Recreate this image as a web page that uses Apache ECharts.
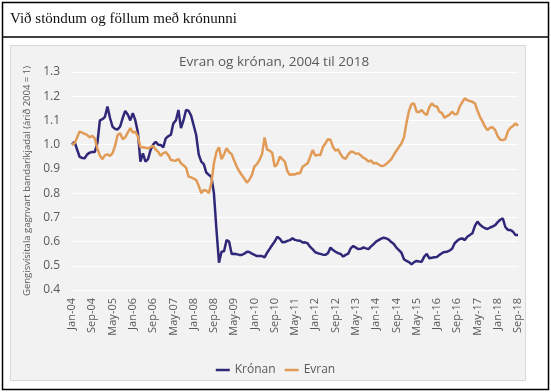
<!DOCTYPE html>
<html><head><meta charset="utf-8">
<script src="https://cdn.jsdelivr.net/npm/echarts@6/dist/echarts.min.js"></script>
<style>html,body{margin:0;padding:0;background:#fff}#c{width:551px;height:392px}</style>
</head><body><div id="c"></div>
<script>
const headerText = "Við stöndum og föllum með krónunni";
const chartTitle = "Evran og krónan, 2004 til 2018";
const yAxisTitle = "Gengisvísitala gagnvart bandaríkjadal (árið 2004 = 1)";
const monthNames = ["Jan","Feb","Mar","Apr","May","Jun","Jul","Aug","Sep","Oct","Nov","Dec"];
const firstYear = 2004, lastYear = 2018, lastMonth = 9;
const categories = [];
for (let y = firstYear; y <= lastYear; y++) {
  for (let m = 0; m < 12; m++) {
    if (y === lastYear && m >= lastMonth) break;
    categories.push(monthNames[m] + "-" + String(y).slice(2));
  }
}
const kronan = [
1.00,1.012,0.98,0.95,0.945,0.944,0.96,0.967,0.97,0.97,
1.005,1.10,1.105,1.115,1.157,1.11,1.074,1.065,1.063,1.075,
1.11,1.139,1.125,1.10,1.13,1.10,1.05,0.93,0.964,0.93,
0.94,0.978,1.00,1.012,1.00,0.999,0.989,1.026,1.035,1.04,
1.088,1.10,1.143,1.068,1.10,1.143,1.14,1.12,1.08,1.04,
0.96,0.93,0.92,0.885,0.875,0.868,0.80,0.65,0.513,0.558,
0.56,0.606,0.60,0.549,0.55,0.548,0.545,0.545,0.55,0.558,
0.557,0.55,0.545,0.54,0.54,0.54,0.535,0.554,0.57,0.586,
0.60,0.62,0.612,0.597,0.598,0.603,0.606,0.613,0.607,0.604,
0.603,0.596,0.597,0.592,0.578,0.568,0.556,0.552,0.549,0.546,
0.545,0.552,0.575,0.565,0.558,0.552,0.549,0.538,0.545,0.55,
0.572,0.582,0.575,0.569,0.57,0.576,0.572,0.569,0.58,0.589,
0.60,0.606,0.612,0.616,0.613,0.608,0.598,0.59,0.575,0.565,
0.554,0.527,0.52,0.515,0.506,0.515,0.52,0.518,0.517,0.538,
0.549,0.531,0.533,0.535,0.536,0.545,0.552,0.557,0.558,0.563,
0.57,0.593,0.603,0.611,0.613,0.606,0.62,0.627,0.634,0.665,
0.682,0.67,0.661,0.655,0.652,0.658,0.662,0.668,0.68,0.69,
0.696,0.66,0.648,0.648,0.641,0.627,0.627
];
const evran = [
1.00,1.005,1.03,1.054,1.05,1.045,1.04,1.03,1.036,1.026,
0.985,0.955,0.94,0.957,0.96,0.953,0.965,0.995,1.04,1.047,
1.023,1.03,1.05,1.068,1.05,1.054,1.033,0.989,0.989,0.987,
0.985,0.99,0.995,0.98,0.97,0.954,0.965,0.969,0.957,0.937,
0.935,0.934,0.941,0.923,0.915,0.905,0.868,0.865,0.86,0.854,
0.83,0.80,0.813,0.81,0.80,0.841,0.923,0.97,0.989,0.94,
0.96,0.985,0.97,0.961,0.935,0.91,0.89,0.875,0.86,0.843,
0.855,0.875,0.91,0.92,0.937,0.961,1.03,0.98,0.975,0.967,
0.909,0.92,0.95,0.94,0.93,0.89,0.875,0.878,0.877,0.882,
0.882,0.909,0.916,0.923,0.95,0.978,0.955,0.957,0.957,0.99,
1.005,1.023,1.02,0.99,0.975,0.981,0.96,0.946,0.941,0.96,
0.971,0.97,0.962,0.964,0.955,0.946,0.94,0.93,0.935,0.922,
0.925,0.918,0.912,0.913,0.92,0.93,0.94,0.958,0.975,0.99,
1.005,1.03,1.09,1.14,1.168,1.17,1.135,1.135,1.143,1.13,
1.122,1.155,1.17,1.16,1.158,1.136,1.13,1.111,1.118,1.124,
1.136,1.125,1.127,1.157,1.175,1.191,1.184,1.18,1.177,1.171,
1.14,1.115,1.095,1.074,1.06,1.07,1.072,1.06,1.035,1.02,
1.019,1.023,1.055,1.07,1.077,1.088,1.078
];
const seriesNames = ["Krónan","Evran"];
const txt = "#595959";
const chart = echarts.init(document.getElementById('c'), null, {renderer:'canvas'});
chart.setOption({
  animation:false,
  backgroundColor:'#ffffff',
  graphic:[
    {type:'rect', z:-10, shape:{x:2.5,y:2.5,width:546,height:387}, style:{fill:'#fff',stroke:'#000',lineWidth:1.5}},
    {type:'line', z:-9, shape:{x1:2.5,y1:37,x2:548.5,y2:37}, style:{stroke:'#000',lineWidth:1.5}},
    {type:'rect', z:-8, shape:{x:10.5,y:45.5,width:515,height:335}, style:{fill:'#f2f2f2',stroke:'#d9d9d9',lineWidth:1}},
    {type:'text', z:5, left:10, top:12, style:{text:headerText, fill:'#111', font:'15px "Liberation Serif", serif'}}
  ],
  title:{text:chartTitle, left:269, top:50, textAlign:'center',
    textStyle:{color:txt, fontSize:13.5, fontWeight:'normal', fontFamily:'Open Sans'}},
  legend:{data:seriesNames, bottom:11, left:'center', icon:'rect', itemWidth:14, itemHeight:2.5, itemGap:9,
    textStyle:{color:txt, fontSize:12, fontFamily:'Open Sans'}},
  grid:{left:72, right:33, top:72, bottom:102},
  xAxis:{type:'category', data:categories, boundaryGap:false,
    axisLine:{show:true, lineStyle:{color:'#ffffff', width:1}},
    axisTick:{show:false},
    axisLabel:{interval:7, rotate:90, color:txt, fontSize:11, fontFamily:'Open Sans', margin:8},
    splitLine:{show:false}},
  yAxis:{type:'value', min:0.4, max:1.3, interval:0.1,
    name:yAxisTitle, nameLocation:'middle', nameGap:37,
    nameTextStyle:{color:txt, fontSize:9.5, fontFamily:'Open Sans'},
    axisLine:{show:false}, axisTick:{show:false},
    axisLabel:{color:txt, fontSize:12, fontFamily:'Open Sans', margin:12, formatter:v=>v.toFixed(1)},
    splitLine:{lineStyle:{color:'#ffffff', width:1}}},
  series:[
    {name:seriesNames[0], type:'line', data:kronan, showSymbol:false, symbol:'none', lineStyle:{width:2.5, color:'#2f2878'}, itemStyle:{color:'#2f2878'}},
    {name:seriesNames[1], type:'line', data:evran, showSymbol:false, symbol:'none', lineStyle:{width:2.5, color:'#e19b56'}, itemStyle:{color:'#e19b56'}}
  ]
});
</script></body></html>
